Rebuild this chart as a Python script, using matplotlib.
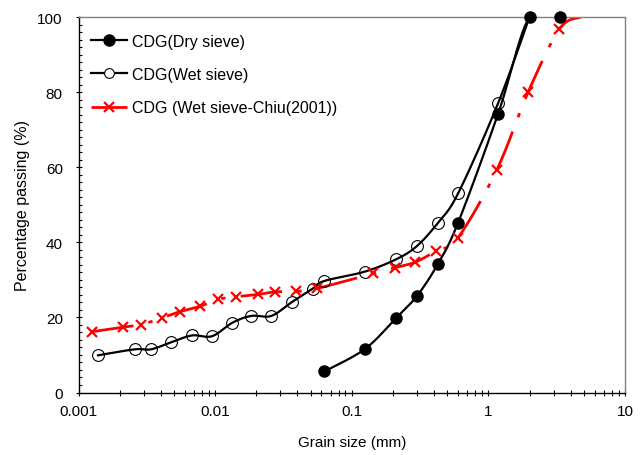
import numpy as np
import matplotlib
matplotlib.use("Agg")
import matplotlib.pyplot as plt
from matplotlib.ticker import FixedLocator, FixedFormatter, MultipleLocator, LogLocator, NullFormatter

plt.rcParams['font.family'] = ['Liberation Sans', 'DejaVu Sans']

# ---- data ----
dry_x = [0.063, 0.125, 0.212, 0.3, 0.425, 0.6, 1.18, 2.0, 3.35]
dry_y = [5.6, 11.6, 19.9, 25.7, 34.1, 45.2, 74.3, 100, 100]

wet_x = [0.00139, 0.00258, 0.0034, 0.00479, 0.00678, 0.0095, 0.0134, 0.0184,
         0.0258, 0.0365, 0.0517, 0.063, 0.125, 0.212, 0.3, 0.425, 0.6, 1.18, 2.0]
wet_y = [9.9, 11.5, 11.5, 13.4, 15.2, 15.0, 18.6, 20.4,
         20.4, 24.1, 27.6, 29.7, 32.2, 35.5, 39.0, 45.1, 53.0, 77.1, 100]

chiu_x = [0.00126, 0.00211, 0.00289, 0.0041, 0.0055, 0.0078, 0.0105, 0.0141,
          0.0205, 0.0273, 0.039, 0.0556, 0.144, 0.206, 0.291, 0.415, 0.598,
          1.15, 1.96, 3.31, 4.75]
chiu_y = [16.2, 17.4, 18.1, 19.9, 21.5, 23.0, 24.8, 25.5,
          26.1, 26.8, 26.9, 27.7, 31.7, 33.2, 34.7, 37.7, 41.2,
          59.2, 80.1, 96.8, 100]

x_ticks = [0.001, 0.01, 0.1, 1, 10]
x_tick_labels = ['0.001', '0.01', '0.1', '1', '10']
y_ticks = [0, 20, 40, 60, 80, 100]

labels = ['CDG(Dry sieve)', 'CDG(Wet sieve)', 'CDG (Wet sieve-Chiu(2001))']


def smooth(xs, ys, n=30):
    """Excel-like smoothed line (Catmull-Rom Bezier) in log-x / linear-y space."""
    u = np.log10(np.asarray(xs, float)) * 136.75
    v = np.asarray(ys, float) * 3.75
    P = np.column_stack([u, v])
    out = [P[0]]
    for i in range(len(P) - 1):
        p0 = P[i - 1] if i > 0 else P[i]
        p1 = P[i]
        p2 = P[i + 1]
        p3 = P[i + 2] if i + 2 < len(P) else P[i + 1]
        c1 = p1 + (p2 - p0) / 6.0
        c2 = p2 - (p3 - p1) / 6.0
        t = np.linspace(0, 1, n)[1:, None]
        seg = ((1 - t) ** 3) * p1 + 3 * ((1 - t) ** 2) * t * c1 + 3 * (1 - t) * t ** 2 * c2 + t ** 3 * p2
        out.extend(seg)
    out = np.array(out)
    return 10 ** (out[:, 0] / 136.75), out[:, 1] / 3.75


fig = plt.figure(figsize=(6.44, 4.56), dpi=100)
ax = fig.add_axes([78.5 / 644, 1 - 393.5 / 456, (625 - 78.5) / 644, (393.5 - 18) / 456])

red = '#FF0000'
dash = (0, (15, 5.5, 1.6, 5.5))

# smoothed lines
sx, sy = smooth(dry_x, dry_y)
ax.plot(sx, sy, color='black', lw=1.6, zorder=3)
sx, sy = smooth(wet_x, wet_y)
ax.plot(sx, sy, color='black', lw=1.6, zorder=3)
sx, sy = smooth(chiu_x, chiu_y)
ax.plot(sx, sy, color=red, lw=2.0, linestyle=dash, zorder=2)

# markers
ax.plot(dry_x, dry_y, linestyle='none', marker='o', ms=8, mfc='black', mec='black', zorder=4, clip_on=False)
ax.plot(wet_x[:-1], wet_y[:-1], linestyle='none', marker='o', ms=8.5, mfc='none', mec='black', mew=0.8, zorder=4, clip_on=False)
ax.plot(chiu_x[:-1], chiu_y[:-1], linestyle='none', marker='x', ms=7.5, mec=red, mew=1.6, zorder=4, clip_on=False)

# legend proxies
h1, = ax.plot([], [], color='black', lw=1.6, marker='o', ms=8, mfc='black', mec='black')
h2, = ax.plot([], [], color='black', lw=1.6, marker='o', ms=7, mfc='white', mec='black', mew=0.8)
h3, = ax.plot([], [], color=red, lw=2.0, linestyle=dash, marker='x', ms=7.5, mec=red, mew=1.6)
leg = ax.legend([h1, h2, h3], labels, loc='upper left', bbox_to_anchor=(0.012, 0.973),
                frameon=False, fontsize=11.5, handlelength=2.25, handletextpad=0.3,
                labelspacing=1.15, borderaxespad=0.2, borderpad=0.2)

ax.set_xscale('log')
ax.set_xlim(0.001, 10)
ax.set_ylim(0, 100)
ax.xaxis.set_major_locator(FixedLocator(x_ticks))
ax.xaxis.set_major_formatter(FixedFormatter(x_tick_labels))
ax.xaxis.set_minor_locator(LogLocator(base=10, subs=np.arange(2, 10)))
ax.xaxis.set_minor_formatter(NullFormatter())
ax.yaxis.set_major_locator(FixedLocator(y_ticks))
ax.yaxis.set_minor_locator(MultipleLocator(2))

ax.tick_params(axis='x', which='both', direction='inout', length=4.5, width=0.8, labelsize=11, pad=6)
ax.tick_params(axis='y', which='major', direction='inout', length=4.5, width=0.8, labelsize=11, pad=9)
ax.tick_params(axis='y', which='minor', direction='in', length=2.5, width=0.8)

for s in ['top', 'right']:
    ax.spines[s].set_color('#808080')
    ax.spines[s].set_linewidth(1.0)
for s in ['left', 'bottom']:
    ax.spines[s].set_color('black')
    ax.spines[s].set_linewidth(1.0)

ax.set_xlabel('Grain size (mm)', fontsize=11, labelpad=12)
ax.set_ylabel('Percentage passing (%)', fontsize=11.5, labelpad=5)

fig.savefig('out.png', dpi=100)
